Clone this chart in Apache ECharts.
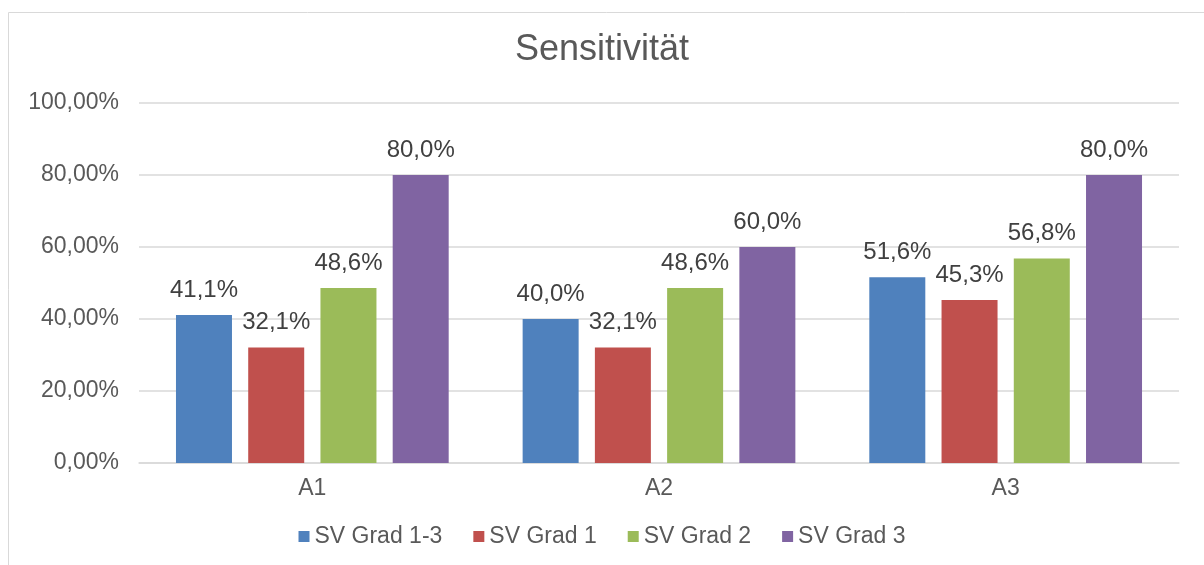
<!DOCTYPE html>
<html>
<head>
<meta charset="utf-8">
<script src="https://cdn.jsdelivr.net/npm/echarts@6/dist/echarts.min.js"></script>
<style>
  html, body { margin: 0; padding: 0; background: #fff; }
  #main { width: 1204px; height: 565px; }
</style>
</head>
<body>
<div id="main"></div>
<script>
// Kategorien und Werte (in Prozent)
var categories = ['A1', 'A2', 'A3'];
var seriesNames = ['SV Grad 1-3', 'SV Grad 1', 'SV Grad 2', 'SV Grad 3'];
var grad13 = [41.1, 40.0, 51.6];
var grad1 = [32.1, 32.1, 45.3];
var grad2 = [48.6, 48.6, 56.8];
var grad3 = [80.0, 60.0, 80.0];
var colors = ['#4F81BD', '#C0504D', '#9BBB59', '#8064A2'];

var font = 'Liberation Sans, Arial, Helvetica, sans-serif';

function bar(name, data, color) {
    return {
        name: name,
        type: 'bar',
        data: data,
        barWidth: 56,
        barGap: '29%',
        itemStyle: { color: color },
        label: {
            show: true,
            position: 'top',
            distance: 13,
            color: '#404040',
            fontSize: 24,
            fontFamily: font,
            formatter: function (p) {
                return p.value.toFixed(1).replace('.', ',') + '%';
            }
        }
    };
}

var myChart = echarts.init(document.getElementById('main'));
myChart.setOption({
    animation: false,
    color: colors,
    graphic: [{
        type: 'rect',
        shape: { x: 8.5, y: 12.5, width: 1300, height: 700 },
        style: { fill: 'none', stroke: '#d9d9d9', lineWidth: 1 },
        silent: true
    }],
    title: {
        text: 'Sensitivität',
        left: 'center',
        top: 27,
        textStyle: { color: '#595959', fontSize: 36, fontWeight: 'normal', fontFamily: font }
    },
    legend: {
        bottom: 12,
        left: 'center',
        itemWidth: 11,
        itemHeight: 11,
        itemGap: 31,
        icon: 'rect',
        textStyle: { color: '#595959', fontSize: 23, fontFamily: font },
        data: seriesNames
    },
    grid: { left: 139, right: 25, top: 103, bottom: 102 },
    xAxis: {
        type: 'category',
        data: categories,
        axisTick: { show: false },
        axisLine: { lineStyle: { color: '#d9d9d9', width: 1.5 } },
        axisLabel: { color: '#595959', fontSize: 23, fontFamily: font, margin: 14 }
    },
    yAxis: {
        type: 'value',
        min: 0,
        max: 100,
        interval: 20,
        axisLine: { show: false },
        axisTick: { show: false },
        splitLine: { lineStyle: { color: '#d9d9d9', width: 1.5 } },
        axisLabel: {
            color: '#595959', fontSize: 23, fontFamily: font, margin: 20,
            formatter: function (v) { return v.toFixed(2).replace('.', ',') + '%'; }
        }
    },
    series: [
        bar(seriesNames[0], grad13, colors[0]),
        bar(seriesNames[1], grad1, colors[1]),
        bar(seriesNames[2], grad2, colors[2]),
        bar(seriesNames[3], grad3, colors[3])
    ]
});
</script>
</body>
</html>
